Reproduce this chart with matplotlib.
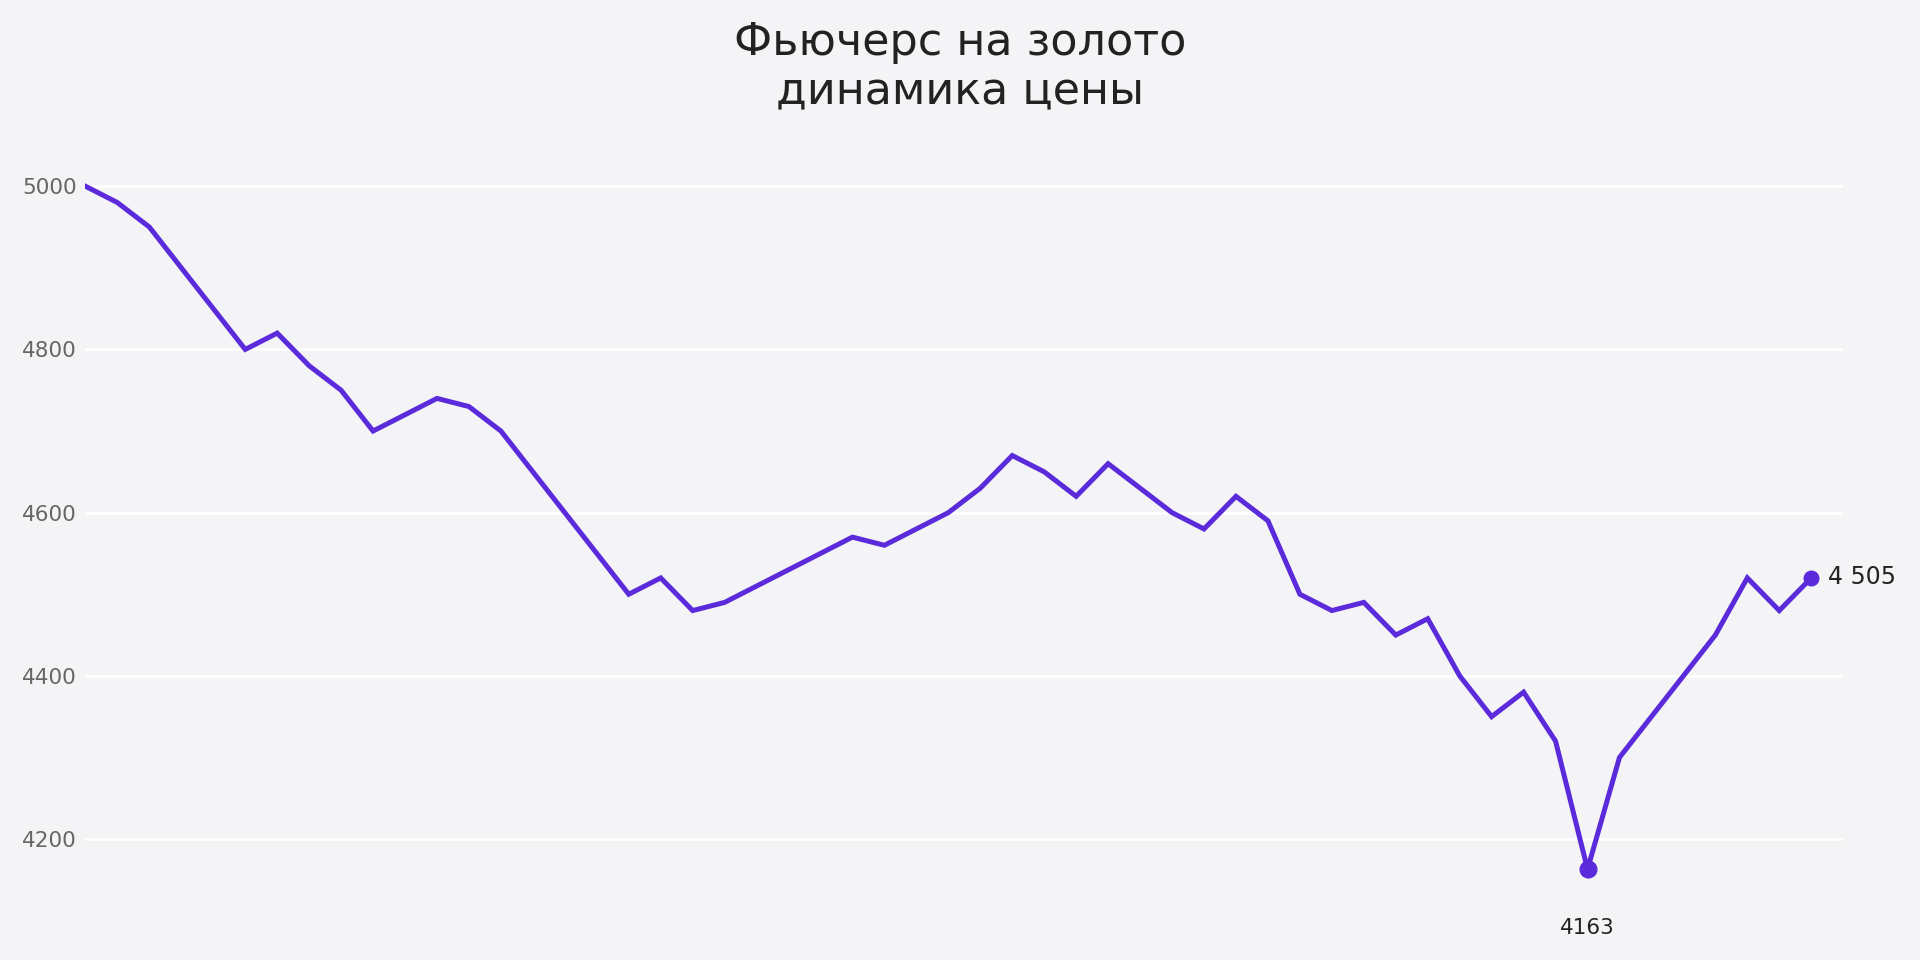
import numpy as np
import matplotlib.pyplot as plt

# gold futures, daily price
prices = [5000, 4980, 4950, 4900, 4850, 4800, 4820, 4780, 4750, 4700,
          4720, 4740, 4730, 4700, 4650, 4600, 4550, 4500, 4520, 4480,
          4490, 4510, 4530, 4550, 4570, 4560, 4580, 4600, 4630, 4670,
          4650, 4620, 4660, 4630, 4600, 4580, 4620, 4590, 4500, 4480,
          4490, 4450, 4470, 4400, 4350, 4380, 4320, 4163, 4300, 4350,
          4400, 4450, 4520, 4480, 4520]
last_label = "4 505"
yticks = [4200, 4400, 4600, 4800, 5000]
title = "Фьючерс на золото\nдинамика цены"

bg = "#f4f4f6"
line_color = "#5b2bdb"

plt.rcParams['font.family'] = ['DejaVu Sans']

fig = plt.figure(figsize=(19.2, 9.6), dpi=100, facecolor=bg)
ax = fig.add_axes([0.0445, 0.024, 0.9155, 0.833])
ax.set_facecolor(bg)

x = np.arange(len(prices))
ax.plot(x, prices, color=line_color, lw=3.6, solid_joinstyle='miter', zorder=3)

# min point
i_min = int(np.argmin(prices))
ax.plot(x[i_min], prices[i_min], 'o', color=line_color, ms=12, zorder=4)
ax.annotate(str(prices[i_min]), (x[i_min], prices[i_min]), xytext=(0, -42),
            textcoords='offset points', ha='center', va='center',
            fontsize=15.5, color='#222222')

# last point
ax.plot(x[-1], prices[-1], 'o', color=line_color, ms=10.5, zorder=4)
ax.annotate(last_label, (x[-1], prices[-1]), xytext=(12, 1),
            textcoords='offset points', ha='left', va='center',
            fontsize=17, color='#222222')

ax.set_xlim(0, 55)
ax.set_ylim(4080, 5060)
ax.set_yticks(yticks)
ax.set_xticks([])
ax.grid(axis='y', color='white', lw=2)
ax.set_axisbelow(True)
ax.tick_params(axis='y', length=0, pad=6, labelsize=15.5, labelcolor='#666666')
for s in ax.spines.values():
    s.set_visible(False)

fig.text(0.5, 0.978, title, ha='center', va='top', fontsize=32,
         color='#222222', linespacing=1.15)

fig.savefig("out.png", dpi=100, facecolor=bg)
